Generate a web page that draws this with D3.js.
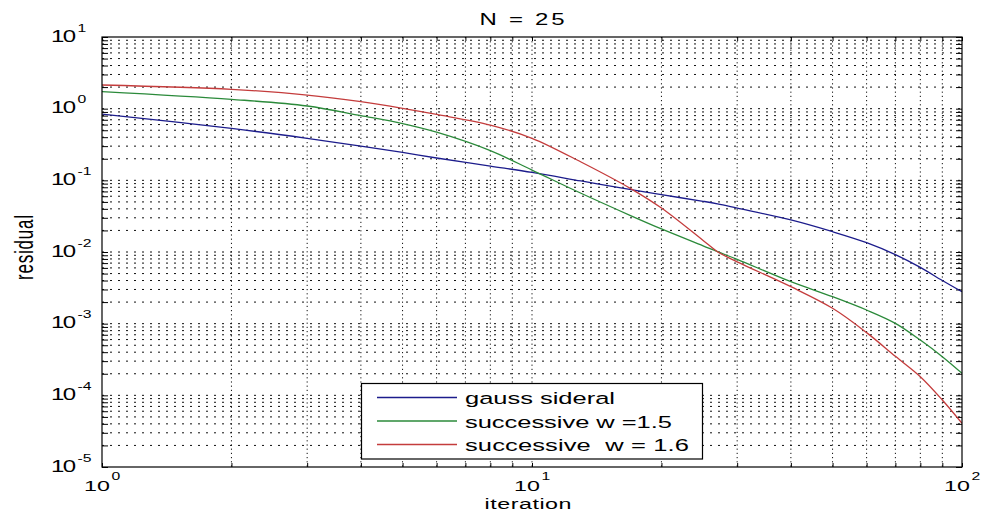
<!DOCTYPE html>
<html>
<head>
<meta charset="utf-8">
<script src="https://cdn.jsdelivr.net/npm/d3@7"></script>
<style>
html, body { margin: 0; padding: 0; background: #fff; }
svg { display: block; }
text { font-family: "Liberation Sans", Arial, Helvetica, sans-serif; fill: #000; white-space: pre; }
</style>
</head>
<body>
<svg id="chart" width="983" height="519"></svg>
<script>
// ---- data ----
const iterations = [1, 2, 3, 4, 5, 6, 8, 10, 13, 17, 20, 25, 27, 30, 40, 50, 60, 70, 80, 90, 100];
const gaussSideral = [0.84, 0.53, 0.386, 0.301, 0.245, 0.205, 0.158, 0.129, 0.098, 0.074, 0.063, 0.051, 0.047, 0.041, 0.028, 0.0192, 0.0135, 0.0092, 0.0061, 0.0040, 0.00279];
const successive15 = [1.73, 1.35, 1.09, 0.80, 0.62, 0.47, 0.26, 0.139, 0.066, 0.032, 0.021, 0.0122, 0.0101, 0.0079, 0.00385, 0.00238, 0.00155, 0.00101, 0.00059, 0.000346, 0.000203];
const successive16 = [2.14, 1.86, 1.55, 1.25, 1.01, 0.83, 0.59, 0.386, 0.18, 0.076, 0.041, 0.0145, 0.0101, 0.0073, 0.00328, 0.00164, 0.00075, 0.00035, 0.000182, 0.0000861, 0.0000407];
const seriesNames = ["gauss sideral", "successive w =1.5", "successive  w = 1.6"];
const seriesColors = ["#1c1c8c", "#2b8a3a", "#c43c3c"];
const xTickExponents = [0, 1, 2];
const yTickExponents = [-5, -4, -3, -2, -1, 0, 1];
const titleText = "N = 25";
const xLabel = "iteration";
const yLabel = "residual";

// ---- layout ----
const L = 102, R = 962, T = 37, B = 467;
const SX = 1.5; // horizontal stretch of the glyphs

const svg = d3.select("#chart");
svg.append("rect").attr("width", 983).attr("height", 519).attr("fill", "#fff");

const x = d3.scaleLog().domain([1, 100]).range([L, R]);
const y = d3.scaleLog().domain([1e-5, 10]).range([B, T]);

// minor + major tick values
const xTicks = [];
for (let d = 0; d < 2; d++) for (let m = 1; m <= 9; m++) xTicks.push(m * Math.pow(10, d));
xTicks.push(100);
const yTicks = [];
for (let d = -5; d < 1; d++) for (let m = 1; m <= 9; m++) yTicks.push(m * Math.pow(10, d));
yTicks.push(10);

// grid
const grid = svg.append("g");
grid.selectAll("line.gx").data(xTicks.filter(v => v > 1 && v < 100)).join("line")
  .attr("x1", d => x(d)).attr("x2", d => x(d)).attr("y1", T).attr("y2", B)
  .attr("stroke", "#111").attr("stroke-width", 1).attr("stroke-dasharray", "1.2,3");
grid.selectAll("line.gy").data(yTicks.filter(v => v > 1e-5 && v < 10)).join("line")
  .attr("y1", d => y(d)).attr("y2", d => y(d)).attr("x1", L).attr("x2", R)
  .attr("stroke", "#111").attr("stroke-width", 1).attr("stroke-dasharray", "2,6");

// axes ticks (inward, on all four sides)
function styleAxis(g) {
  g.select(".domain").remove();
  g.selectAll(".tick line").attr("stroke", "#000");
  g.selectAll(".tick text").remove();
}
svg.append("g").attr("transform", `translate(0,${B})`)
  .call(d3.axisBottom(x).tickValues(xTicks).tickSize(-4).tickFormat("")).call(styleAxis);
svg.append("g").attr("transform", `translate(0,${T})`)
  .call(d3.axisTop(x).tickValues(xTicks).tickSize(-4).tickFormat("")).call(styleAxis);
svg.append("g").attr("transform", `translate(${L},0)`)
  .call(d3.axisLeft(y).tickValues(yTicks).tickSize(-6).tickFormat("")).call(styleAxis);
svg.append("g").attr("transform", `translate(${R},0)`)
  .call(d3.axisRight(y).tickValues(yTicks).tickSize(-6).tickFormat("")).call(styleAxis);

// lines
svg.append("clipPath").attr("id", "clip").append("rect")
  .attr("x", L).attr("y", T).attr("width", R - L).attr("height", B - T);
const allSeries = [gaussSideral, successive15, successive16];
const line = d3.line().x(d => x(d[0])).y(d => y(d[1])).curve(d3.curveCatmullRom.alpha(0.5));
svg.append("g").attr("clip-path", "url(#clip)").selectAll("path")
  .data(allSeries).join("path")
  .attr("d", s => line(iterations.map((it, i) => [it, s[i]])))
  .attr("fill", "none")
  .attr("stroke", (s, i) => seriesColors[i])
  .attr("stroke-width", 1.3);

// box
svg.append("rect").attr("x", L).attr("y", T).attr("width", R - L).attr("height", B - T)
  .attr("fill", "none").attr("stroke", "#000").attr("stroke-width", 1.2);

// stretched text helper
function stext(parent, px, py, str, size, anchor, width) {
  const t = parent.append("text")
    .attr("transform", `translate(${px},${py}) scale(${SX},1)`)
    .attr("font-size", size)
    .attr("text-anchor", anchor)
    .text(str);
  if (width) t.attr("textLength", width / SX).attr("lengthAdjust", "spacing");
  return t;
}

// tick labels
const lab = svg.append("g");
xTickExponents.forEach(e => {
  const px = x(Math.pow(10, e));
  stext(lab, px - 18, 490.5, "10", 15.5, "start", 26);
  stext(lab, px + 9.5, 480, String(e), 10.5, "start");
});
yTickExponents.forEach(e => {
  const py = y(Math.pow(10, e));
  stext(lab, 51, py + 4.7, "10", 16, "start", 25);
  stext(lab, 77.5, py - 5.5, e < 0 ? "-" + (-e) : String(e), 10.5, "start");
});

// title and axis labels
stext(svg, 522, 25, titleText, 16, "middle", 85);
stext(svg, 528, 508.5, xLabel, 15.5, "middle", 87);
svg.append("text")
  .attr("transform", `translate(33,247.5) rotate(-90) scale(1,${SX})`)
  .attr("font-size", 17)
  .attr("text-anchor", "middle")
  .attr("textLength", 65).attr("lengthAdjust", "spacing")
  .text(yLabel);

// legend
const lg = svg.append("g");
lg.append("rect").attr("x", 361.5).attr("y", 383.5).attr("width", 341).attr("height", 75.5)
  .attr("fill", "#fff").attr("stroke", "#000").attr("stroke-width", 1.2);
const rowY = [397.5, 421, 444.5];
const textW = [150, 207, 224];
seriesNames.forEach((name, i) => {
  lg.append("line").attr("x1", 377).attr("x2", 457).attr("y1", rowY[i]).attr("y2", rowY[i])
    .attr("stroke", seriesColors[i]).attr("stroke-width", 1.3);
  stext(lg, 465, rowY[i] + 6.5, name, 17, "start", textW[i]);
});
</script>
</body>
</html>
